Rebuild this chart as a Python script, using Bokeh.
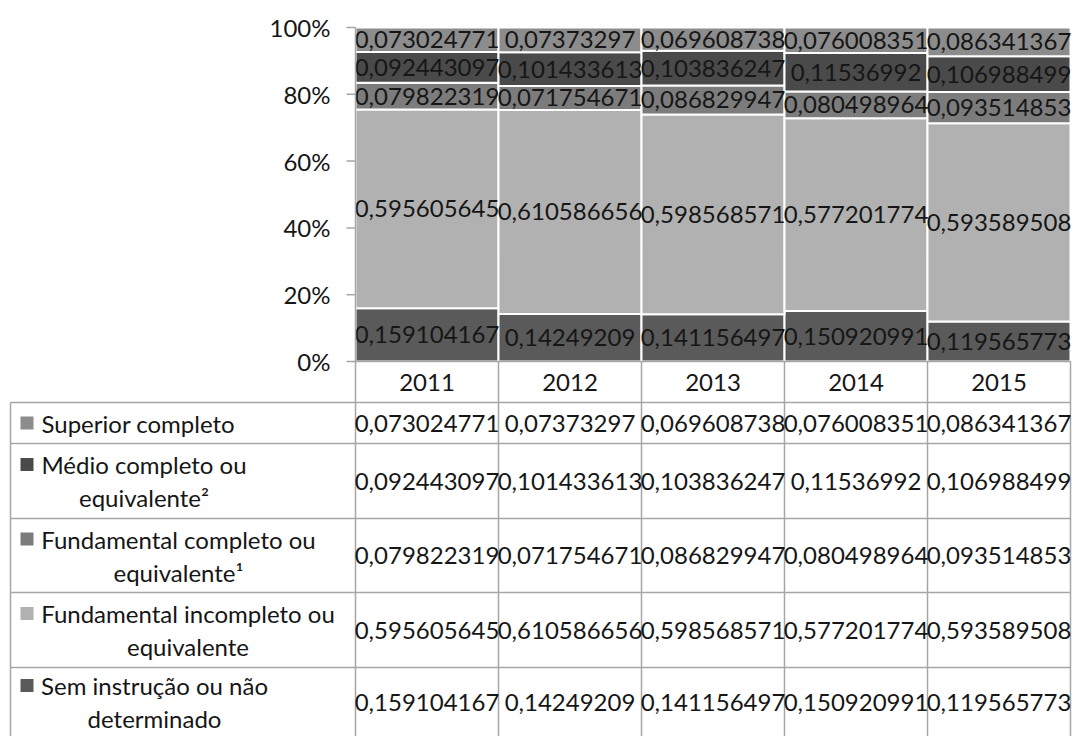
import numpy as np
from bokeh.plotting import figure
from bokeh.models import Range1d, ColumnDataSource
from bokeh.core.properties import value
from bokeh.embed import file_html
from bokeh.resources import INLINE

# ---- data -----------------------------------------------------------------
years = ["2011", "2012", "2013", "2014", "2015"]

sem_instrucao = [0.159104167, 0.14249209, 0.141156497, 0.150920991, 0.119565773]
fund_incompleto = [0.595605645, 0.610586656, 0.598568571, 0.577201774, 0.593589508]
fund_completo = [0.079822319, 0.071754671, 0.086829947, 0.080498964, 0.093514853]
medio_completo = [0.092443097, 0.101433613, 0.103836247, 0.11536992, 0.106988499]
superior_completo = [0.073024771, 0.07373297, 0.069608738, 0.076008351, 0.086341367]

# table rows, top to bottom (legend label split over lines)
row_labels = [
    ["Superior completo"],
    ["Médio completo ou", "equivalente²"],
    ["Fundamental completo ou", "equivalente¹"],
    ["Fundamental incompleto ou", "equivalente"],
    ["Sem instrução ou não", "determinado"],
]

tick_values = [0.0, 0.2, 0.4, 0.6, 0.8, 1.0]
tick_labels = ["0%", "20%", "40%", "60%", "80%", "100%"]

# ---- layout / style -------------------------------------------------------
W, H = 1072, 736
PLOT_L = 355          # left edge of the bars (px)
COL_W = 143           # width of one year column (px)
TOP = 27              # 100 % line (px)
BASE = 361            # 0 % line (px)
TABLE_L = 10          # left border of the data table (px)
ROW_EDGES = [402, 443, 518, 592, 667, 736]
LABEL_CENTER = [None, 143.5, 178, 187.5, 154]   # centre of the wrapped label blocks
LINE_GAP = 33

FONT = value("Lato")
FS = "24px"
TXT = "#161616"
GRID = "#a6a6a6"

# bottom -> top stacking order with fills
stack_keys = ["sem", "finc", "fcomp", "medio", "sup"]
stack_vals = [sem_instrucao, fund_incompleto, fund_completo, medio_completo, superior_completo]
stack_colors = ["#5a5a5a", "#b1b1b1", "#7c7c7c", "#4a4a4a", "#8c8c8c"]
# table rows are listed top -> bottom
row_vals = stack_vals[::-1]
row_colors = stack_colors[::-1]


def fmt(v):
    return f"{v:.9f}".rstrip("0").replace(".", ",")


n = len(years)
x_centers = [i + 0.5 for i in range(n)]

p = figure(
    width=W, height=H,
    x_range=Range1d(-PLOT_L / COL_W, (W - PLOT_L) / COL_W),
    y_range=Range1d(H, 0),
    min_border=0, toolbar_location=None, output_backend="svg",
)
p.extra_x_ranges = {"px": Range1d(0, W)}
p.extra_y_ranges = {"share": Range1d((BASE - H) / (BASE - TOP), BASE / (BASE - TOP))}
p.axis.visible = False
p.grid.visible = False
p.outline_line_color = None
p.background_fill_color = "white"
p.border_fill_color = "white"

# ---- stacked 100% columns -------------------------------------------------
src = ColumnDataSource(dict(x=x_centers, **{k: v for k, v in zip(stack_keys, stack_vals)}))
p.vbar_stack(stack_keys, x="x", width=1.0, color=stack_colors, source=src,
             line_color="white", line_width=2, y_range_name="share")

# value labels centred in each segment
arr = np.array(stack_vals)
tops = np.cumsum(arr, axis=0)
mids = tops - arr / 2
lab_x, lab_y, lab_t = [], [], []
for s in range(arr.shape[0]):
    for i in range(n):
        lab_x.append(x_centers[i])
        lab_y.append(mids[s, i])
        lab_t.append(fmt(stack_vals[s][i]))
p.text(x=lab_x, y=lab_y, text=lab_t, text_align="center", text_baseline="middle",
       text_font=FONT, text_font_size=FS, text_color=TXT, y_range_name="share")

# ---- value axis (ticks + labels) ------------------------------------------
p.segment(x0=PLOT_L - 9, x1=PLOT_L, y0=tick_values, y1=tick_values,
          line_color=GRID, line_width=1.5, x_range_name="px", y_range_name="share")
p.text(x=[PLOT_L - 25] * len(tick_values), y=tick_values, text=tick_labels,
       text_align="right", text_baseline="middle", text_font=FONT,
       text_font_size=FS, text_color=TXT, x_range_name="px", y_range_name="share")

# ---- data table grid ------------------------------------------------------
# baseline under the bars
p.segment(x0=[0], x1=[n], y0=[BASE], y1=[BASE], line_color=GRID, line_width=1.5)
# horizontal row rules
p.segment(x0=[TABLE_L] * 5, x1=[PLOT_L + n * COL_W] * 5, y0=ROW_EDGES[:5], y1=ROW_EDGES[:5],
          line_color=GRID, line_width=1.5, x_range_name="px")
# left border of the label column
p.segment(x0=[TABLE_L], x1=[TABLE_L], y0=[ROW_EDGES[0]], y1=[H],
          line_color=GRID, line_width=1.5, x_range_name="px")
# value axis line continuing as the label column border
p.segment(x0=[0], x1=[0], y0=[TOP], y1=[H], line_color=GRID, line_width=1.5)
# year column borders
p.segment(x0=list(range(1, n + 1)), x1=list(range(1, n + 1)), y0=[BASE] * n, y1=[H] * n,
          line_color=GRID, line_width=1.5)

# year header
p.text(x=x_centers, y=[(BASE + ROW_EDGES[0]) / 2] * n, text=years, text_align="center",
       text_baseline="middle", text_font=FONT, text_font_size=FS, text_color=TXT)

# table values
tv_x, tv_y, tv_t = [], [], []
for r in range(len(row_vals)):
    yc = (ROW_EDGES[r] + ROW_EDGES[r + 1]) / 2
    for i in range(n):
        tv_x.append(x_centers[i])
        tv_y.append(yc)
        tv_t.append(fmt(row_vals[r][i]))
p.text(x=tv_x, y=tv_y, text=tv_t, text_align="center", text_baseline="middle",
       text_font=FONT, text_font_size=FS, text_color=TXT)

# row labels with legend keys
key_x, key_y = [], []
for r, lines in enumerate(row_labels):
    yc = (ROW_EDGES[r] + ROW_EDGES[r + 1]) / 2
    if len(lines) == 1:
        key_x.append(26.5)
        key_y.append(yc)
        p.text(x=[41], y=[yc], text=lines, text_align="left", text_baseline="middle",
               text_font=FONT, text_font_size=FS, text_color=TXT, x_range_name="px")
    else:
        ys = [yc - LINE_GAP / 2, yc + LINE_GAP / 2]
        key_x.append(26.5)
        key_y.append(ys[0])
        p.text(x=[LABEL_CENTER[r]] * 2, y=ys, text=lines, text_align="center",
               text_baseline="middle", text_font=FONT, text_font_size=FS,
               text_color=TXT, x_range_name="px")
p.rect(x=key_x, y=key_y, width=13, height=13, fill_color=row_colors, line_color=None,
       x_range_name="px")

open("out.html", "w").write(file_html(p, INLINE))
